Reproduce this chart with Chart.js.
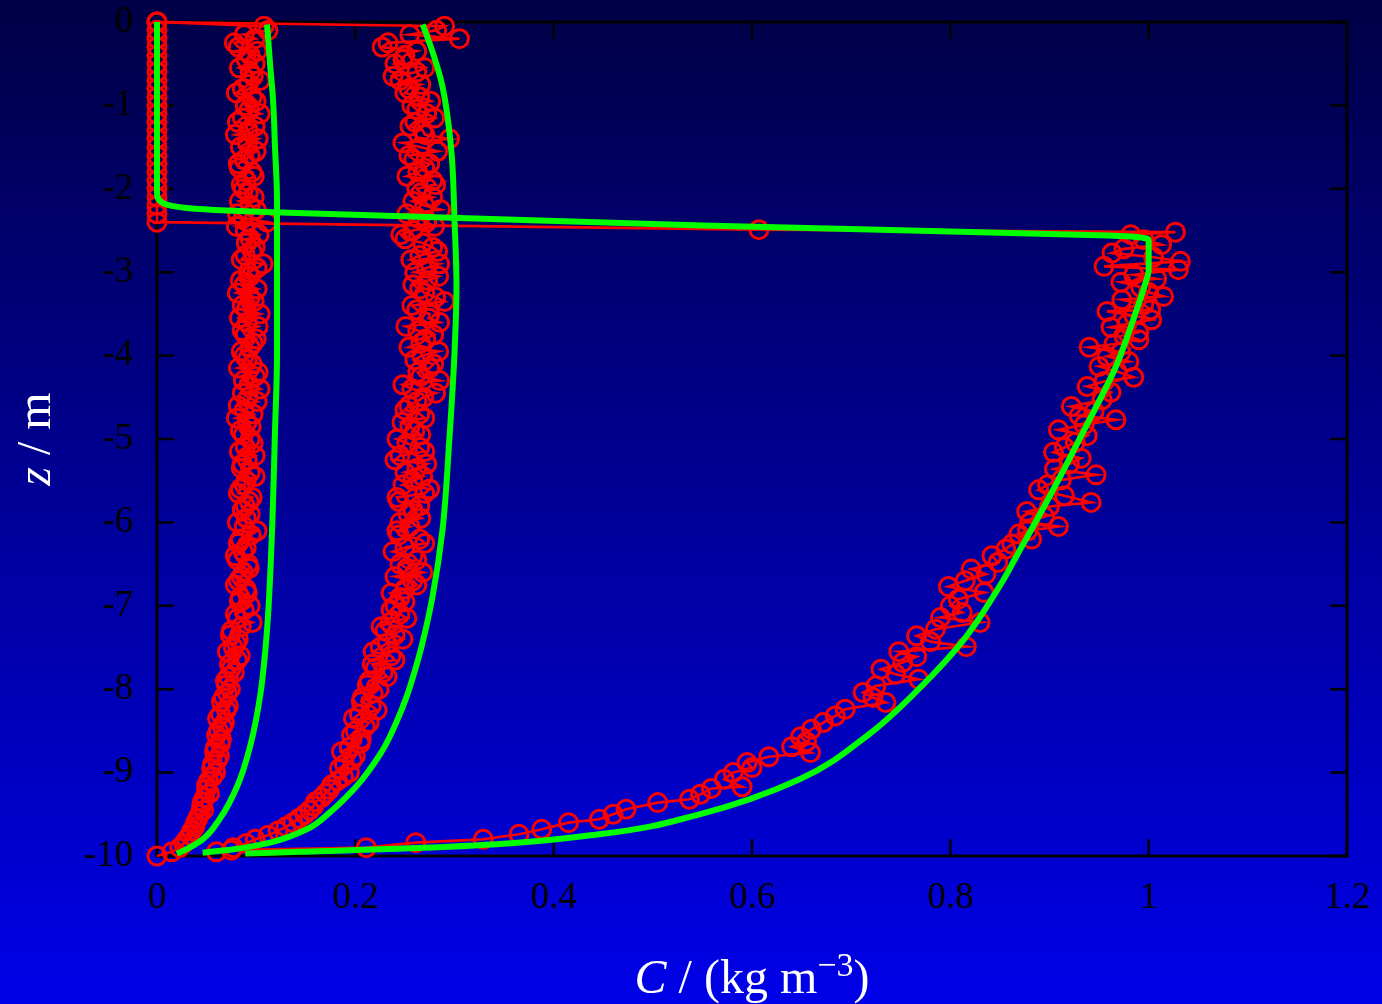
<!DOCTYPE html>
<html>
<head>
    <title>Concentration profiles</title>
    <script src="https://cdn.jsdelivr.net/npm/chart.js"></script>
    <style>
        body {
            margin: 0;
            padding: 0;
            background: #000;
        }
        canvas {
            display: block;
        }
    </style>
</head>
<body>
    <canvas id="profileChart" width="1382" height="1004"></canvas>

    <script>
        // measured profiles 1 and 2 were sampled on two interleaved depth grids (m)
        const depthGrid = [
            -0.1, -0.2, -0.3, -0.4, -0.5, -0.6, -0.7, -0.8, -0.9, -1.0,
            -1.1, -1.2, -1.3, -1.4, -1.5, -1.6, -1.7, -1.8, -1.9, -2.0,
            -2.1, -2.2, -2.3, -2.4, -2.5, -2.6, -2.7, -2.8, -2.9, -3.0,
            -3.1, -3.2, -3.3, -3.4, -3.5, -3.6, -3.7, -3.8, -3.9, -4.0,
            -4.1, -4.2, -4.3, -4.4, -4.5, -4.6, -4.7, -4.8, -4.9, -5.0,
            -5.1, -5.2, -5.3, -5.4, -5.5, -5.6, -5.7, -5.8, -5.9, -6.0,
            -6.1, -6.2, -6.3, -6.4, -6.5, -6.6, -6.7, -6.8, -6.9, -7.0,
            -7.1, -7.2, -7.3, -7.4, -7.5, -7.6, -7.7, -7.8, -7.9, -8.0,
            -8.1, -8.2, -8.3, -8.4, -8.5, -8.6, -8.7, -8.8, -8.9, -9.0,
            -9.1, -9.2, -9.3, -9.4, -9.5, -9.6, -9.7, -9.8, -9.9
        ];
        const depthMid = [
            -0.05, -0.15, -0.25, -0.35, -0.45, -0.55, -0.65, -0.75, -0.85, -0.95,
            -1.05, -1.15, -1.25, -1.35, -1.45, -1.55, -1.65, -1.75, -1.85, -1.95,
            -2.05, -2.15, -2.25, -2.35, -2.45, -2.55, -2.65, -2.75, -2.85, -2.95,
            -3.05, -3.15, -3.25, -3.35, -3.45, -3.55, -3.65, -3.75, -3.85, -3.95,
            -4.05, -4.15, -4.25, -4.35, -4.45, -4.55, -4.65, -4.75, -4.85, -4.95,
            -5.05, -5.15, -5.25, -5.35, -5.45, -5.55, -5.65, -5.75, -5.85, -5.95,
            -6.05, -6.15, -6.25, -6.35, -6.45, -6.55, -6.65, -6.75, -6.85, -6.95,
            -7.05, -7.15, -7.25, -7.35, -7.45, -7.55, -7.65, -7.75, -7.85, -7.95,
            -8.05, -8.15, -8.25, -8.35, -8.45, -8.55, -8.65, -8.75, -8.85, -8.95,
            -9.05, -9.15, -9.25, -9.35, -9.45, -9.55, -9.65, -9.75, -9.85, -9.95
        ];

        // measured concentration, early profile (kg m^-3)
        const measured1 = [
            0.112, 0.099, 0.082, 0.094, 0.099, 0.094, 0.104, 0.086, 0.096, 0.089,
            0.104, 0.081, 0.092, 0.102, 0.084, 0.094, 0.082, 0.096, 0.090, 0.087,
            0.098, 0.094, 0.081, 0.111, 0.089, 0.094, 0.099, 0.089, 0.107, 0.092,
            0.084, 0.101, 0.094, 0.086, 0.104, 0.091, 0.086, 0.100, 0.094, 0.088,
            0.096, 0.102, 0.087, 0.104, 0.092, 0.082, 0.097, 0.091, 0.084, 0.094,
            0.089, 0.099, 0.086, 0.094, 0.090, 0.084, 0.096, 0.089, 0.094, 0.081,
            0.101, 0.084, 0.090, 0.079, 0.092, 0.087, 0.082, 0.090, 0.084, 0.094,
            0.079, 0.096, 0.075, 0.082, 0.077, 0.084, 0.073, 0.078, 0.069, 0.074,
            0.067, 0.072, 0.064, 0.068, 0.062, 0.065, 0.059, 0.063, 0.056, 0.059,
            0.052, 0.050, 0.048, 0.045, 0.043, 0.039, 0.035, 0.030, 0.023
        ];
        const measured1Mid = [
            0.108, 0.088, 0.078, 0.101, 0.090, 0.083, 0.097, 0.092, 0.080, 0.100,
            0.093, 0.086, 0.099, 0.079, 0.091, 0.100, 0.088, 0.083, 0.098, 0.085,
            0.092, 0.083, 0.100, 0.087, 0.080, 0.103, 0.090, 0.096, 0.085, 0.101,
            0.094, 0.088, 0.081, 0.098, 0.090, 0.083, 0.102, 0.089, 0.097, 0.085,
            0.091, 0.082, 0.099, 0.093, 0.086, 0.101, 0.088, 0.080, 0.095, 0.087,
            0.097, 0.083, 0.091, 0.085, 0.099, 0.088, 0.082, 0.093, 0.086, 0.090,
            0.088, 0.095, 0.082, 0.087, 0.081, 0.093, 0.085, 0.079, 0.091, 0.083,
            0.088, 0.081, 0.085, 0.074, 0.080, 0.071, 0.081, 0.075, 0.072, 0.070,
            0.071, 0.065, 0.070, 0.061, 0.066, 0.060, 0.064, 0.058, 0.061, 0.055,
            0.056, 0.050, 0.053, 0.046, 0.047, 0.041, 0.038, 0.033, 0.027, 0.015
        ];

        // measured concentration, middle profile
        const measured2 = [
            0.282, 0.305, 0.227, 0.250, 0.240, 0.262, 0.245, 0.254, 0.265, 0.257,
            0.272, 0.260, 0.268, 0.295, 0.265, 0.254, 0.275, 0.263, 0.278, 0.262,
            0.278, 0.270, 0.252, 0.272, 0.258, 0.250, 0.278, 0.265, 0.285, 0.260,
            0.273, 0.265, 0.281, 0.257, 0.275, 0.285, 0.263, 0.271, 0.254, 0.267,
            0.279, 0.263, 0.285, 0.257, 0.269, 0.254, 0.265, 0.247, 0.260, 0.242,
            0.265, 0.245, 0.272, 0.250, 0.258, 0.275, 0.242, 0.265, 0.253, 0.245,
            0.242, 0.265, 0.250, 0.258, 0.245, 0.268, 0.258, 0.250, 0.245, 0.240,
            0.245, 0.235, 0.230, 0.248, 0.225, 0.236, 0.217, 0.228, 0.214, 0.224,
            0.207, 0.216, 0.204, 0.214, 0.200, 0.206, 0.194, 0.200, 0.189, 0.194,
            0.182, 0.174, 0.166, 0.158, 0.149, 0.137, 0.122, 0.099, 0.077
        ];
        const measured2Mid = [
            0.290, 0.255, 0.233, 0.262, 0.248, 0.270, 0.238, 0.266, 0.250, 0.276,
            0.262, 0.280, 0.255, 0.270, 0.248, 0.283, 0.259, 0.270, 0.252, 0.281,
            0.266, 0.258, 0.286, 0.263, 0.280, 0.246, 0.268, 0.283, 0.256, 0.272,
            0.284, 0.258, 0.270, 0.290, 0.262, 0.274, 0.251, 0.279, 0.266, 0.284,
            0.260, 0.275, 0.266, 0.248, 0.281, 0.262, 0.250, 0.270, 0.255, 0.266,
            0.252, 0.270, 0.240, 0.262, 0.268, 0.248, 0.270, 0.244, 0.258, 0.266,
            0.255, 0.244, 0.270, 0.238, 0.262, 0.252, 0.240, 0.262, 0.236, 0.250,
            0.236, 0.252, 0.226, 0.240, 0.232, 0.218, 0.240, 0.220, 0.232, 0.212,
            0.218, 0.206, 0.222, 0.198, 0.210, 0.196, 0.205, 0.186, 0.197, 0.184,
            0.188, 0.176, 0.170, 0.160, 0.154, 0.143, 0.130, 0.112, 0.090, 0.060
        ];

        // measured step profile, own depths
        const depth3 = [
            0, -0.1, -0.2, -0.3, -0.4, -0.5, -0.6, -0.7, -0.8, -0.9, -1.0,
            -1.1, -1.2, -1.3, -1.4, -1.5, -1.6, -1.7, -1.8, -1.9, -2.0,
            -2.1, -2.2, -2.3, -2.4,
            -2.49, -2.52, -2.55, -2.61, -2.67, -2.72, -2.77, -2.82, -2.87, -2.93,
            -2.97, -3.03, -3.08, -3.12, -3.18, -3.24, -3.29, -3.33, -3.39, -3.45,
            -3.47, -3.52, -3.57, -3.62, -3.66, -3.72, -3.76, -3.81, -3.86, -3.90,
            -3.96, -4.01, -4.07, -4.13, -4.19, -4.26, -4.31, -4.37, -4.44, -4.53,
            -4.61, -4.67, -4.72, -4.77, -4.83, -4.89, -4.96, -5.04, -5.10, -5.16,
            -5.23, -5.30, -5.36, -5.43, -5.49, -5.55, -5.61, -5.68, -5.76, -5.81,
            -5.87, -5.93, -6.00, -6.05, -6.10, -6.14, -6.20, -6.26, -6.32, -6.40,
            -6.48, -6.56, -6.62, -6.70, -6.77, -6.84, -6.92, -7.00, -7.08, -7.14,
            -7.20, -7.28, -7.36, -7.43, -7.49, -7.55, -7.61, -7.68, -7.76, -7.82,
            -7.88, -7.96, -8.04, -8.10, -8.16, -8.24, -8.32, -8.40, -8.48, -8.57,
            -8.63, -8.69, -8.76, -8.81, -8.88, -8.94, -9.00, -9.08, -9.17, -9.19,
            -9.26, -9.32, -9.36, -9.44, -9.50, -9.56, -9.60, -9.68, -9.74, -9.80,
            -9.84, -9.90, -9.93
        ];
        const measured3 = [
            0, 0, 0, 0, 0, 0, 0, 0, 0, 0, 0,
            0, 0, 0, 0, 0, 0, 0, 0, 0, 0,
            0, 0, 0, 0,
            0.607, 1.027, 0.982, 0.995, 1.013, 0.975, 0.963, 1.005, 1.032, 0.955,
            1.030, 0.985, 1.008, 0.972, 0.992, 1.000, 1.015, 0.973, 0.995, 1.002,
            0.958, 0.985, 1.003, 0.978, 0.962, 0.990, 0.975, 0.990, 0.965, 0.940,
            0.972, 0.958, 0.980, 0.950, 0.968, 0.985, 0.955, 0.938, 0.962, 0.953,
            0.922, 0.945, 0.930, 0.967, 0.935, 0.909, 0.938, 0.926, 0.915, 0.904,
            0.932, 0.920, 0.905, 0.947, 0.912, 0.898, 0.889, 0.915, 0.942, 0.900,
            0.877, 0.895, 0.880, 0.909, 0.878, 0.869, 0.882, 0.862, 0.856, 0.842,
            0.848, 0.821, 0.836, 0.815, 0.798, 0.834, 0.808, 0.800, 0.812, 0.790,
            0.830, 0.785, 0.766, 0.780, 0.816, 0.748, 0.766, 0.752, 0.730, 0.745,
            0.768, 0.725, 0.712, 0.722, 0.735, 0.694, 0.684, 0.672, 0.660, 0.649,
            0.655, 0.640, 0.659, 0.617, 0.595, 0.600, 0.581, 0.572, 0.590, 0.559,
            0.548, 0.537, 0.505, 0.473, 0.460, 0.446, 0.415, 0.388, 0.365, 0.329,
            0.261, 0.211, 0.075
        ];

        // model curves
        const modelDepth1 = [-0.03, -0.5, -0.93, -1.5, -2.13, -3, -4, -4.9, -6.1, -7.28, -8.08, -8.68, -9.16, -9.56, -9.8, -9.94, -9.97];
        const model1 = [0.111, 0.114, 0.117, 0.119, 0.121, 0.121, 0.121, 0.119, 0.116, 0.111, 0.104, 0.094, 0.081, 0.063, 0.046, 0.026, 0.020];

        const modelDepth2 = [-0.03, -0.4, -0.78, -1.57, -2.37, -3.17, -3.97, -4.97, -6.08, -6.88, -7.48, -7.78, -8.08, -8.38, -8.68, -8.87, -9.08, -9.28, -9.48, -9.68, -9.84, -9.92, -9.96];
        const model2 = [0.268, 0.279, 0.288, 0.297, 0.300, 0.302, 0.300, 0.295, 0.288, 0.278, 0.267, 0.260, 0.252, 0.242, 0.230, 0.220, 0.207, 0.192, 0.174, 0.151, 0.114, 0.077, 0.046];

        const modelDepth3 = [0, -2.05, -2.13, -2.19, -2.23, -2.26, -2.28, -2.44, -2.56, -2.58, -2.62, -2.8, -2.97, -3.12, -3.48, -4.13, -4.73, -5.33, -5.93, -6.42, -6.68, -7.40, -8.00, -8.54, -9.08, -9.50, -9.74, -9.89, -9.95, -9.97];
        const model3 = [0, 0, 0.002, 0.010, 0.030, 0.070, 0.117, 0.550, 0.960, 0.990, 1.000, 1.000, 1.000, 0.997, 0.987, 0.967, 0.942, 0.916, 0.889, 0.866, 0.854, 0.814, 0.768, 0.718, 0.648, 0.547, 0.446, 0.295, 0.144, 0.089];

        const xTicks = [0, 0.2, 0.4, 0.6, 0.8, 1, 1.2];
        const yTicks = [0, -1, -2, -3, -4, -5, -6, -7, -8, -9, -10];

        const SURFACE = 0;
        const BED = -10;

        function pairs(cs, zs) {
            return cs.map((c, i) => ({ x: c, y: zs[i] }));
        }

        // join both sampling grids into one top-to-bottom trace
        function merged(zA, cA, zB, cB) {
            const pts = pairs(cA, zA).concat(pairs(cB, zB));
            pts.sort((p, q) => q.y - p.y);
            return pts;
        }

        const RED = '#ff0000';
        const GREEN = '#00ff00';
        const SERIF = "'Liberation Serif', 'Times New Roman', serif";

        function measuredSet(points) {
            return {
                data: points,
                showLine: true,
                borderColor: RED,
                borderWidth: 2.6,
                pointStyle: 'circle',
                pointRadius: 9,
                pointBorderWidth: 3,
                pointBorderColor: RED,
                pointBackgroundColor: 'rgba(0,0,0,0)',
                clip: false,
                order: 2
            };
        }

        function modelSet(points) {
            return {
                data: points,
                indexAxis: 'y',
                showLine: true,
                borderColor: GREEN,
                borderWidth: 6,
                pointRadius: 0,
                cubicInterpolationMode: 'monotone',
                borderJoinStyle: 'round',
                clip: false,
                order: 1
            };
        }

        // vertical blue gradient behind everything
        const backdrop = {
            id: 'backdrop',
            beforeDraw(chart) {
                const { ctx, width, height } = chart;
                const g = ctx.createLinearGradient(0, 0, 0, height);
                g.addColorStop(0, '#000046');
                g.addColorStop(1, '#0000e8');
                ctx.save();
                ctx.fillStyle = g;
                ctx.fillRect(0, 0, width, height);
                ctx.restore();
            }
        };

        // box around the plot with inward ticks on all four sides
        const frame = {
            id: 'frame',
            beforeDatasetsDraw(chart) {
                const { ctx, chartArea: a, scales: { x, y } } = chart;
                const len = 17;
                ctx.save();
                ctx.strokeStyle = '#000';
                ctx.lineWidth = 2.5;
                ctx.beginPath();
                xTicks.forEach(v => {
                    const px = x.getPixelForValue(v);
                    ctx.moveTo(px, a.bottom); ctx.lineTo(px, a.bottom - len);
                    ctx.moveTo(px, a.top); ctx.lineTo(px, a.top + len);
                });
                yTicks.forEach(v => {
                    const py = y.getPixelForValue(v);
                    ctx.moveTo(a.left, py); ctx.lineTo(a.left + len, py);
                    ctx.moveTo(a.right, py); ctx.lineTo(a.right - len, py);
                });
                ctx.stroke();
                ctx.lineWidth = 3;
                ctx.strokeRect(a.left, a.top, a.right - a.left, a.bottom - a.top);
                ctx.restore();
            }
        };

        // axis titles with italic symbols and a superscript
        const axisTitles = {
            id: 'axisTitles',
            afterDraw(chart) {
                const { ctx, chartArea: a } = chart;
                ctx.save();
                ctx.fillStyle = '#fff';
                ctx.textBaseline = 'alphabetic';

                // x title: C / (kg m^-3)
                const big = '48px ' + SERIF;
                const bigIt = 'italic 48px ' + SERIF;
                const small = '34px ' + SERIF;
                const parts = [
                    { t: 'C', f: bigIt, dy: 0 },
                    { t: ' / (kg m', f: big, dy: 0 },
                    { t: '\u22123', f: small, dy: -17 },
                    { t: ')', f: big, dy: 0 }
                ];
                let total = 0;
                parts.forEach(p => { ctx.font = p.f; p.w = ctx.measureText(p.t).width; total += p.w; });
                let cx = (a.left + a.right) / 2 - total / 2;
                parts.forEach(p => {
                    ctx.font = p.f;
                    ctx.fillText(p.t, cx, 993 + p.dy);
                    cx += p.w;
                });

                // y title: z / m
                ctx.translate(50, (a.top + a.bottom) / 2);
                ctx.rotate(-Math.PI / 2);
                const yParts = [
                    { t: 'z', f: bigIt },
                    { t: ' / m', f: big }
                ];
                total = 0;
                yParts.forEach(p => { ctx.font = p.f; p.w = ctx.measureText(p.t).width; total += p.w; });
                cx = -total / 2;
                yParts.forEach(p => {
                    ctx.font = p.f;
                    ctx.fillText(p.t, cx, 0);
                    cx += p.w;
                });
                ctx.restore();
            }
        };

        const ctx = document.getElementById('profileChart').getContext('2d');
        new Chart(ctx, {
            type: 'scatter',
            data: {
                datasets: [
                    measuredSet([{ x: 0, y: SURFACE }].concat(merged(depthGrid, measured1, depthMid, measured1Mid), [{ x: 0, y: BED }])),
                    measuredSet([{ x: 0, y: SURFACE }].concat(merged(depthGrid, measured2, depthMid, measured2Mid))),
                    measuredSet(pairs(measured3, depth3)),
                    modelSet(pairs(model1, modelDepth1)),
                    modelSet(pairs(model2, modelDepth2)),
                    modelSet(pairs(model3, modelDepth3))
                ]
            },
            options: {
                responsive: false,
                animation: false,
                events: [],
                layout: {
                    autoPadding: false,
                    padding: 0
                },
                plugins: {
                    legend: { display: false },
                    tooltip: { enabled: false }
                },
                scales: {
                    x: {
                        type: 'linear',
                        min: 0,
                        max: 1.2,
                        afterFit: scale => {
                            scale.height = 148;
                            scale.paddingLeft = 0;
                            scale.paddingRight = 35;
                        },
                        afterBuildTicks: scale => { scale.ticks = xTicks.map(v => ({ value: v })); },
                        grid: { display: false, drawTicks: false },
                        border: { display: false },
                        ticks: {
                            color: '#000',
                            padding: 20,
                            maxRotation: 0,
                            font: { family: SERIF, size: 37 },
                            callback: v => String(Math.round(v * 10) / 10)
                        }
                    },
                    y: {
                        type: 'linear',
                        min: -10,
                        max: 0,
                        afterFit: scale => {
                            scale.width = 157;
                            scale.paddingTop = 22;
                            scale.paddingBottom = 0;
                        },
                        afterBuildTicks: scale => { scale.ticks = yTicks.map(v => ({ value: v })); },
                        grid: { display: false, drawTicks: false },
                        border: { display: false },
                        ticks: {
                            color: '#000',
                            padding: 24,
                            font: { family: SERIF, size: 37 },
                            callback: v => String(v)
                        }
                    }
                }
            },
            plugins: [backdrop, frame, axisTitles]
        });
    </script>
</body>
</html>
